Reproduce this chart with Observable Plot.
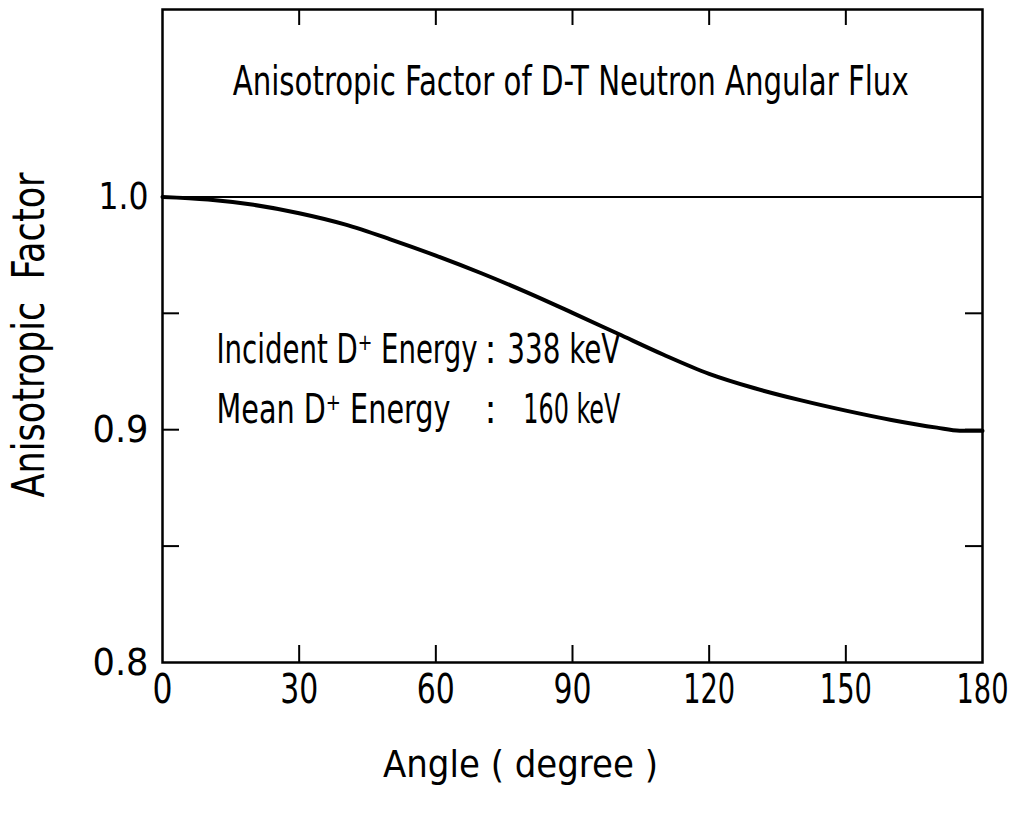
<!DOCTYPE html>
<html>
<head>
<meta charset="utf-8">
<script src="https://cdn.jsdelivr.net/npm/d3@7"></script>
<script src="https://cdn.jsdelivr.net/npm/@observablehq/plot@0.6"></script>
<style>
  html, body { margin: 0; padding: 0; background: #fff; }
  #chart { width: 1015px; height: 814px; }
</style>
</head>
<body>
<div id="chart"></div>
<script>
// Data
const angles = [0, 10, 20, 30, 40, 50, 60, 70, 80, 90, 100, 110, 120, 130, 140, 150, 160, 170, 175, 180];
const factor = [1.0, 0.9989, 0.9966, 0.993, 0.9882, 0.9818, 0.9748, 0.9672, 0.959, 0.9502, 0.9412, 0.9322, 0.924, 0.9178, 0.9127, 0.9082, 0.9042, 0.9009, 0.8996, 0.8995];
const reference = [1.0];
const xTickLabels = [0, 30, 60, 90, 120, 150, 180];
const xInnerTicks = [30, 60, 90, 120, 150];
const yTickLabels = [0.8, 0.9, 1.0];
const yInnerTicks = [0.85, 0.9, 0.95];
const titleText = "Anisotropic Factor of D-T Neutron Angular Flux";
const annLabels = ["Incident D\u207A Energy", "Mean D\u207A Energy"];
const annValues = ["338 keV", "160 keV"];
const xLabel = "Angle ( degree )";
const yLabel = "Anisotropic  Factor";

const data = angles.map((a, i) => ({angle: a, factor: factor[i]}));

const W = 1015, H = 814;
const mL = 162, mR = 33, mT = 9, mB = 152;
const fw = W - mL - mR, fh = H - mT - mB;
const font = "'Liberation Sans Narrow', 'DejaVu Sans Condensed', 'Liberation Sans', sans-serif";
const fmt = d3.format(".1f");

const chart = Plot.plot({
  width: W, height: H,
  marginLeft: mL, marginRight: mR, marginTop: mT, marginBottom: mB,
  style: {fontFamily: font, color: "#000", background: "#fff"},
  x: {domain: [0, 180]},
  y: {domain: [0.8, 1.0805]},
  marks: [
    Plot.axisX(xTickLabels, {tickSize: 0, tickPadding: 12, fontSize: 40, label: null}),
    Plot.axisY(yTickLabels, {tickSize: 0, tickPadding: 14, fontSize: 38, tickFormat: fmt, label: null}),
    Plot.tickX(xInnerTicks, {x: d => d, insetTop: fh - 17, strokeWidth: 2}),
    Plot.tickX(xInnerTicks, {x: d => d, insetBottom: fh - 16, strokeWidth: 2}),
    Plot.tickY(yInnerTicks, {y: d => d, insetRight: fw - 17, strokeWidth: 2}),
    Plot.tickY(yInnerTicks, {y: d => d, insetLeft: fw - 17, strokeWidth: 2}),
    Plot.ruleY(reference, {strokeWidth: 2}),
    Plot.line(data, {x: "angle", y: "factor", curve: "monotone-x", strokeWidth: 4, stroke: "#000"}),
    Plot.frame({strokeWidth: 2.5, stroke: "#000"}),
    Plot.text([titleText], {x: 89.6, y: 1.0491, text: d => d, fontSize: 40, textAnchor: "middle"}),
    Plot.text(annLabels, {x: 11.85, y: (d, i) => [0.934, 0.9083][i], text: d => d, fontSize: 40, textAnchor: "start"}),
    Plot.text(annLabels, {x: 72.0, y: (d, i) => [0.934, 0.9083][i], text: () => ":", fontSize: 40, textAnchor: "middle"}),
    Plot.text(annValues, {x: (d, i) => [75.7, 79.2][i], y: (d, i) => [0.934, 0.9083][i], text: d => d, fontSize: 40, textAnchor: "start"}),
    Plot.text([xLabel], {frameAnchor: "bottom", dx: -52, dy: 114, text: d => d, fontSize: 38, textAnchor: "middle"}),
    Plot.text([yLabel], {frameAnchor: "left", dx: -133, dy: -1, rotate: -90, text: d => d, fontSize: 44, textAnchor: "middle"})
  ]
});

// Fit text widths to the reference
const widths = {
  [titleText]: 676,
  [annLabels[0]]: 261,
  [annLabels[1]]: 234,
  [annValues[0]]: 113,
  [annValues[1]]: 97,
  [xLabel]: 275,
  [yLabel]: 325
};
xTickLabels.forEach(v => { const s = String(v); widths[s] = s.length === 1 ? 20 : s.length === 2 ? 38 : 52; });
yTickLabels.forEach(v => { const s = fmt(v); widths[s] = s === "1.0" ? 50 : 56; });
chart.querySelectorAll("text").forEach(t => {
  const s = t.textContent;
  if (widths[s] !== undefined) {
    t.setAttribute("textLength", widths[s]);
    t.setAttribute("lengthAdjust", "spacingAndGlyphs");
  }
});

document.getElementById("chart").appendChild(chart);
</script>
</body>
</html>
